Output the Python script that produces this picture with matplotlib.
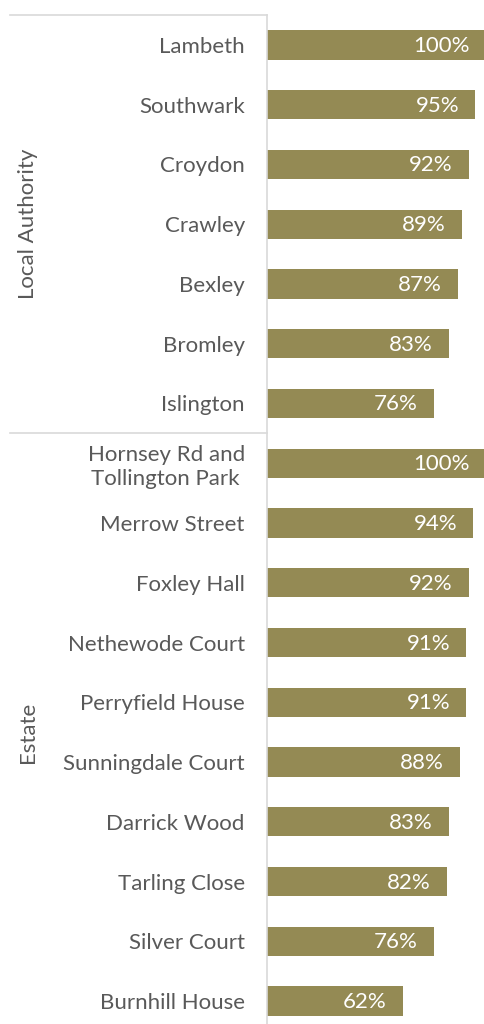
import matplotlib
matplotlib.use("Agg")
import matplotlib.pyplot as plt
from matplotlib.lines import Line2D
from matplotlib.transforms import blended_transform_factory

# data
authorities = ["Lambeth", "Southwark", "Croydon", "Crawley", "Bexley", "Bromley", "Islington"]
authority_values = [100, 95, 92, 89, 87, 83, 76]
estates = ["Hornsey Rd and\nTollington Park ", "Merrow Street", "Foxley Hall", "Nethewode Court",
           "Perryfield House", "Sunningdale Court", "Darrick Wood", "Tarling Close",
           "Silver Court", "Burnhill House"]
estate_values = [100, 94, 92, 91, 91, 88, 83, 82, 76, 62]
groups = ["Local Authority", "Estate"]

labels = authorities + estates
values = authority_values + estate_values

plt.rcParams['font.family'] = ['Lato', 'DejaVu Sans']
bar_color = "#948A54"
text_color = "#595959"
line_color = "#D9D9D9"
fs = 16

W, H = 484, 1024
fig = plt.figure(figsize=(W / 100, H / 100), dpi=100)
ax = fig.add_axes([267 / W, -7 / H, 217 / W, 1016 / H])

ypos = list(range(len(labels)))
ax.barh(ypos, [v / 100 for v in values], height=0.49, color=bar_color)
ax.set_ylim(len(labels) - 0.5, -0.5)
ax.set_xlim(0, 0.99)

ax.set_yticks(ypos)
ax.set_yticklabels(labels, fontsize=fs, color=text_color, multialignment="right",
                   linespacing=1.25)
ax.tick_params(axis="y", length=0, pad=16)
ax.set_xticks([])
for s in ["top", "right", "bottom"]:
    ax.spines[s].set_visible(False)
ax.spines["left"].set_color(line_color)
ax.spines["left"].set_linewidth(1.2)

for y, v in zip(ypos, values):
    ax.annotate(f"{v}%", (v / 100, y), xytext=(-16, -1), textcoords="offset pixels",
                ha="right", va="center", color="white", fontsize=fs,
                annotation_clip=False)

# group separators and labels
tr = blended_transform_factory(fig.transFigure, ax.transData)
x0, x1 = 10 / W, 267 / W
n_auth = len(authorities)
for yb in [-0.5, n_auth - 0.5]:
    fig.add_artist(Line2D([x0, x1], [yb, yb], transform=tr, color=line_color, lw=1.2))

ax.text(28 / W, (n_auth - 1) / 2, groups[0], transform=tr, rotation=90,
        ha="center", va="center", fontsize=fs, color=text_color)
ax.text(28 / W, n_auth + (len(estates) - 1) / 2, groups[1], transform=tr, rotation=90,
        ha="center", va="center", fontsize=fs, color=text_color)

fig.savefig("out.png", dpi=100)
